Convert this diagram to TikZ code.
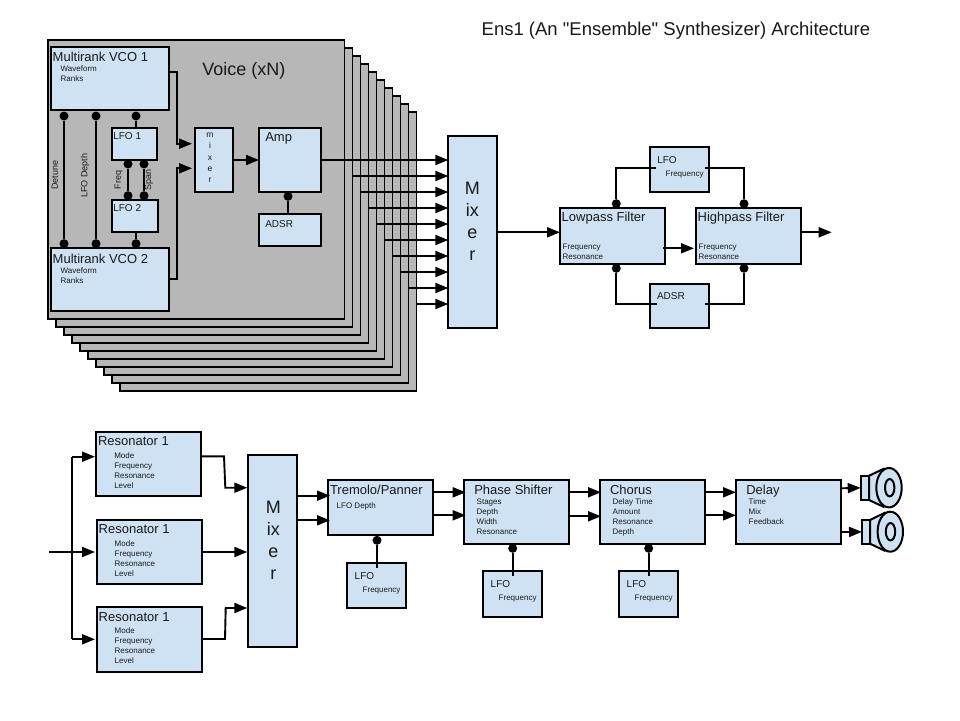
\documentclass[tikz,border=0pt]{standalone}
\usepackage{fontspec}
\setmainfont{Liberation Sans}
\newfontfamily\plainf{Liberation Sans}
\usetikzlibrary{arrows.meta,calc}
\definecolor{boxblue}{HTML}{CFE2F3}
\definecolor{framegray}{HTML}{B7B7B7}
\tikzset{
  boxn/.style={draw=black,fill=boxblue,line width=2pt,inner sep=0pt,outer sep=0pt},
  framen/.style={draw=black,fill=framegray,line width=1.7pt,inner sep=0pt,outer sep=0pt},
  wire/.style={draw=black,line width=1.9pt},
  arr/.style={wire,-{Triangle[length=13pt,width=10pt]}},
  dotn/.style={circle,fill=black,inner sep=0pt,outer sep=0pt,minimum size=9pt},
  spk/.style={draw=black,fill=boxblue,line width=2pt},
  tx/.style={anchor=base west,inner sep=0pt,outer sep=0pt,text=black!90},
  fb/.style={font=\fontsize{13}{15}\selectfont},
  fm/.style={font=\fontsize{10}{12}\selectfont},
  fs/.style={font=\fontsize{8}{10}\selectfont},
  fr/.style={font=\fontsize{9}{11}\selectfont,rotate=90,inner sep=0pt,text=black!90},
  bigmix/.style={font=\fontsize{18}{22}\selectfont,align=center,inner sep=0pt,text=black!90},
}
\newcommand{\bx}[5]{\node[boxn,minimum width={(#4-#2)*1pt},minimum height={(#5-#3)*1pt}] (#1) at ({(#2+#4)/2},{(#3+#5)/2}) {};}
\newcommand{\lb}[5]{\node[tx,#2] (#1) at (#3,#4) {#5};}
\begin{document}
\begin{tikzpicture}[x=1pt,y=-1pt]
\useasboundingbox (0,0) rectangle (960,720);
% title
\node[tx,font=\fontsize{18.5}{22}\selectfont] (title) at (481.7,35.7) {\plainf Ens1 (An "Ensemble" Synthesizer) Architecture};
% stacked voice frames
\foreach \i in {9,8,...,0}{
  \node[framen,minimum width=296.5pt,minimum height=279pt] (frame\i) at ({196.25+8*\i},{179.5+8*\i}) {};
}
\lb{voice}{font=\fontsize{18}{21}\selectfont}{202.3}{75}{Voice (xN)}
% voice boxes
\bx{vcoa}{51.3}{46.7}{168.7}{110.3}
\bx{vcob}{51.3}{248.3}{168.7}{311}
\bx{lfoa}{112.3}{128.3}{156.7}{159.7}
\bx{lfob}{112.3}{200.3}{157.7}{231.7}
\bx{vmix}{195}{128.3}{232.7}{191.7}
\bx{amp}{259}{128.3}{320.7}{191.7}
\bx{adsrv}{259}{214}{320.7}{246.3}
\bx{mixa}{448.3}{136.3}{496.7}{328.3}
% voice texts
\lb{tvcoa}{fb}{52.7}{61.7}{Multirank VCO 1}
\lb{tvcoaw}{fs}{60.7}{71.7}{Waveform}
\lb{tvcoar}{fs}{60.7}{81.7}{Ranks}
\lb{tvcob}{fb}{52.7}{263.3}{Multirank VCO 2}
\lb{tvcobw}{fs}{60.7}{273}{Waveform}
\lb{tvcobr}{fs}{60.7}{283.3}{Ranks}
\lb{tlfoa}{fm}{113.3}{139.3}{LFO 1}
\lb{tlfob}{fm}{113.3}{211}{LFO 2}
\lb{tamp}{fb}{265.3}{141.7}{Amp}
\lb{tadsrv}{fm}{265.3}{227}{ADSR}
\node[align=center,inner sep=0pt,font=\fontsize{8.5}{11.3}\selectfont,text=black!90] (tvmix) at (210,158) {m\\i\\x\\e\\r};
\node[fr] (rdet) at (54.7,175.3) {Detune};
\node[fr] (rdep) at (85,175.7) {LFO Depth};
\node[fr] (rfrq) at (118.7,180) {Freq};
\node[fr] (rspn) at (149,180) {Span};
\node[bigmix] (tmixa) at (472.3,221.5) {M\\ix\\e\\r};
% modulation dots and wires
\node[dotn] (da1) at (64,116) {};
\node[dotn] (da2) at (64,243.7) {};
\node[dotn] (db1) at (96,116) {};
\node[dotn] (db2) at (96,243.7) {};
\node[dotn] (dc1) at (136,116) {};
\node[dotn] (dc2) at (136,243.7) {};
\node[dotn] (dd1) at (128,164) {};
\node[dotn] (dd2) at (128,195.7) {};
\node[dotn] (de1) at (144,164) {};
\node[dotn] (de2) at (144,195.7) {};
\node[dotn] (df) at (288,196.3) {};
\draw[wire] (da1) -- (da2);
\draw[wire] (db1) -- (db2);
\draw[wire] (dc1) -- (dc1 |- lfoa.north);
\draw[wire] (dc2) -- (dc2 |- lfob.south);
\draw[wire] (dd1) -- (dd2);
\draw[wire] (de1) -- (de2);
\draw[wire] (df) -- (df |- adsrv.north);
% voice signal flow
\draw[arr] (vcoa.east |- 0,72.3) -- (176.7,72.3) -- (176.7,143.7) -- (192,143.7);
\draw[arr] (vcob.east |- 0,279.3) -- (176.7,279.3) -- (176.7,168.3) -- (192,168.3);
\draw[arr] (vmix.east) -- (amp.west);
\draw[arr] (amp.east) -- (mixa.west |- amp.east);
\foreach \i in {1,...,9}{
  \draw[arr] (frame\i.east |- 0,{160+16*\i}) -- (mixa.west |- 0,{160+16*\i});
}
% filter section
\bx{lpf}{560}{208.3}{664.7}{263.7}
\bx{hpf}{696}{208.3}{800.7}{263.7}
\bx{lfof}{650.3}{147.3}{709}{192.3}
\bx{adsrf}{650.3}{283.7}{709}{328}
\lb{tlpf}{fb}{561.7}{221.7}{Lowpass Filter}
\lb{tlpff}{fs}{562.7}{249}{Frequency}
\lb{tlpfr}{fs}{562.7}{259}{Resonance}
\lb{thpf}{fb}{697.7}{221.7}{Highpass Filter}
\lb{thpff}{fs}{698.7}{249.7}{Frequency}
\lb{thpfr}{fs}{698.7}{259.7}{Resonance}
\lb{tlfof}{fm}{657.3}{163.3}{LFO}
\lb{tlfoff}{fs}{665.7}{176.7}{Frequency}
\lb{tadsrf}{fm}{657}{299.3}{ADSR}
\node[dotn] (fd1) at (616.3,203.7) {};
\node[dotn] (fd2) at (744,203.7) {};
\node[dotn] (fd3) at (616.3,268.3) {};
\node[dotn] (fd4) at (744,268.3) {};
\coordinate (fa) at (656,168.3);
\coordinate (fb) at (705,168.3);
\coordinate (fc) at (656.7,304.3);
\coordinate (fe) at (705,304.3);
\coordinate (fout) at (831.7,232.3);
\draw[wire] (fa) -| (fd1);
\draw[wire] (fb) -| (fd2);
\draw[wire] (fc) -| (fd3);
\draw[wire] (fe) -| (fd4);
\draw[arr] (mixa.east |- fout) -- (lpf.west |- fout);
\draw[arr] (662.7,248.3) -- (694,248.3);
\draw[arr] (hpf.east |- fout) -- (fout);
% resonators
\bx{resa}{96}{432.3}{201}{496}
\bx{resb}{96.7}{520.3}{201.7}{584.3}
\bx{resc}{96.7}{607.3}{201.7}{671.7}
\bx{mixb}{248.3}{455.3}{296.7}{647.3}
\lb{tresa}{fb}{98}{445.7}{Resonator 1}
\lb{tresam}{fs}{114.3}{458.3}{Mode}
\lb{tresaf}{fs}{114.3}{468.3}{Frequency}
\lb{tresar}{fs}{114.3}{478.3}{Resonance}
\lb{tresal}{fs}{114.3}{488.3}{Level}
\lb{tresb}{fb}{98.7}{533.7}{Resonator 1}
\lb{tresbm}{fs}{114.7}{546.3}{Mode}
\lb{tresbf}{fs}{114.7}{556.3}{Frequency}
\lb{tresbr}{fs}{114.7}{566.3}{Resonance}
\lb{tresbl}{fs}{114.7}{576.3}{Level}
\lb{tresc}{fb}{98.7}{621}{Resonator 1}
\lb{trescm}{fs}{114.7}{633.7}{Mode}
\lb{trescf}{fs}{114.7}{643.7}{Frequency}
\lb{trescr}{fs}{114.7}{653.7}{Resonance}
\lb{trescl}{fs}{114.7}{663.7}{Level}
\node[bigmix] (tmixb) at (273.3,540.5) {M\\ix\\e\\r};
\coordinate (inp) at (49,552);
\coordinate (split) at (72,552);
\draw[arr] (inp) -- (95,552);
\draw[wire] (72,456.7) -- (72,639.3);
\draw[arr] (72,456.7) -- (95,456.7);
\draw[arr] (72,639.3) -- (95,639.3);
\draw[arr] (resa.east |- 0,456.3) -- (224,456.3) -- (225.3,487.7) -- (247.3,487.7);
\draw[arr] (resb.east |- 0,552) -- (247.3,552);
\draw[arr] (resc.east |- 0,639) -- (225,639) -- (225.7,608) -- (247.3,608);
% effects chain
\bx{trem}{328}{480}{432.7}{535.3}
\bx{phase}{464.3}{480}{568.7}{544.3}
\bx{chor}{600}{480}{704.7}{544.3}
\bx{dely}{736}{480}{840.7}{544.3}
\bx{lfot}{347.3}{563.3}{405.7}{608.3}
\bx{lfop}{483.3}{571.3}{541.7}{616.7}
\bx{lfoc}{619.3}{571.3}{677.7}{616.7}
\lb{ttrem}{fb}{330}{494}{Tremolo/Panner}
\lb{ttremd}{fs}{336.7}{508.3}{LFO Depth}
\lb{tphase}{fb}{474.3}{494}{Phase Shifter}
\lb{tphs}{fs}{476.7}{504.7}{Stages}
\lb{tphd}{fs}{476.7}{514.7}{Depth}
\lb{tphw}{fs}{476.7}{524.7}{Width}
\lb{tphr}{fs}{476.7}{534.7}{Resonance}
\lb{tchor}{fb}{610}{494}{Chorus}
\lb{tchdt}{fs}{612.7}{504.7}{Delay Time}
\lb{tcha}{fs}{612.7}{514.7}{Amount}
\lb{tchr}{fs}{612.7}{524.7}{Resonance}
\lb{tchd}{fs}{612.7}{534.7}{Depth}
\lb{tdely}{fb}{746.3}{494}{Delay}
\lb{tdlt}{fs}{748.7}{504.7}{Time}
\lb{tdlm}{fs}{748.7}{514.7}{Mix}
\lb{tdlf}{fs}{748.7}{524.7}{Feedback}
\lb{tlfot}{fm}{354.7}{579.3}{LFO}
\lb{tlfotf}{fs}{362.7}{592.7}{Frequency}
\lb{tlfop}{fm}{490.7}{587.3}{LFO}
\lb{tlfopf}{fs}{498.7}{600.7}{Frequency}
\lb{tlfoc}{fm}{626.7}{587.3}{LFO}
\lb{tlfocf}{fs}{634.7}{600.7}{Frequency}
\node[dotn] (dt) at (377,540.3) {};
\node[dotn] (dp) at (512.7,548.3) {};
\node[dotn] (dc) at (648.7,548.3) {};
\draw[wire] (dt) -- (377,568.3);
\draw[wire] (dp) -- (512.7,576);
\draw[wire] (dc) -- (648.7,576);
\draw[arr] (mixb.east |- 0,495.7) -- (330,495.7);
\draw[arr] (mixb.east |- 0,520.3) -- (330,520.3);
\draw[arr] (trem.east |- 0,492.3) -- (465.7,492.3);
\draw[arr] (trem.east |- 0,515.3) -- (465.7,515.3);
\draw[arr] (phase.east |- 0,492.3) -- (601,492.3);
\draw[arr] (phase.east |- 0,516.3) -- (601,516.3);
\draw[arr] (chor.east |- 0,492.3) -- (736,492.3);
\draw[arr] (chor.east |- 0,515.3) -- (736,515.3);
% speakers
\draw[spk] (869,475.7) -- (883.3,469) -- (883.3,506.7) -- (869,500) -- cycle;
\node[boxn,minimum width=8.3pt,minimum height=24.3pt] (spkar) at (864.85,487.85) {};
\draw[spk] (889,487.7) ellipse [x radius=12.7,y radius=19.7];
\draw[spk] (889.7,487.7) ellipse [x radius=4.7,y radius=8.7];
\draw[spk] (870,520) -- (884.3,513) -- (884.3,550.5) -- (870,543.7) -- cycle;
\node[boxn,minimum width=8pt,minimum height=23.7pt] (spkbr) at (866,531.85) {};
\draw[spk] (890.3,531.7) ellipse [x radius=12.7,y radius=20];
\draw[spk] (890.5,531.7) ellipse [x radius=4.7,y radius=8.7];
\draw[arr] (dely.east |- 0,488.3) -- (spkar.west);
\draw[arr] (dely.east |- 0,532) -- (spkbr.west);
\end{tikzpicture}
\end{document}
